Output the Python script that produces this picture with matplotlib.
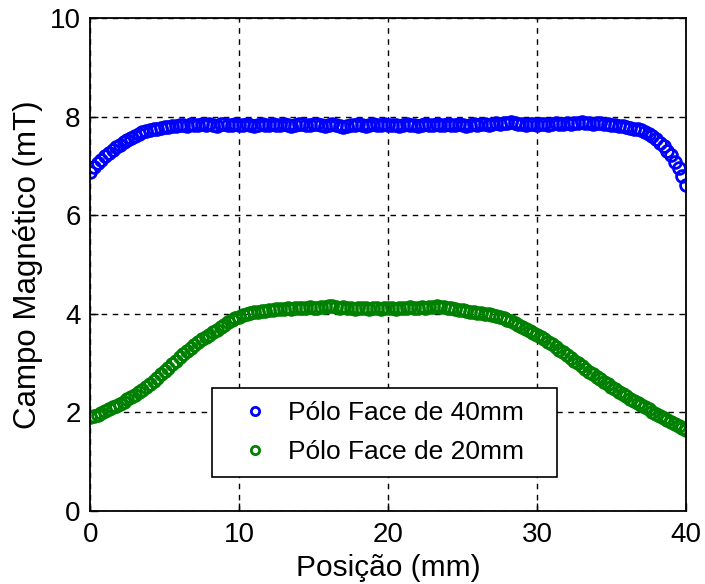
import numpy as np
import matplotlib
matplotlib.use('Agg')
import matplotlib.pyplot as plt

plt.rcParams['font.family'] = ['Liberation Sans', 'DejaVu Sans']

# posição (mm), passo de 0.25 mm
posicao = np.arange(0, 40.001, 0.25)

campo_40mm = [
    6.88, 6.98, 7.06, 7.13, 7.20, 7.26, 7.32, 7.38, 7.43, 7.48, 7.53, 7.57, 7.61,
    7.65, 7.68, 7.71, 7.73, 7.74, 7.76, 7.78, 7.79, 7.80, 7.81, 7.82, 7.83,
    7.84, 7.82, 7.85, 7.83, 7.84, 7.86, 7.83, 7.85,
    7.84, 7.82, 7.85, 7.86, 7.84, 7.83, 7.85, 7.84,
    7.83, 7.85, 7.84, 7.82, 7.84, 7.85, 7.83, 7.84,
    7.86, 7.84, 7.83, 7.85, 7.84, 7.82, 7.84, 7.86,
    7.85, 7.83, 7.84, 7.86, 7.85, 7.83, 7.82, 7.84,
    7.85, 7.83, 7.81, 7.80, 7.82, 7.84, 7.83, 7.85,
    7.84, 7.82, 7.83, 7.85, 7.84, 7.83, 7.85, 7.84,
    7.83, 7.84, 7.82, 7.84, 7.85, 7.83, 7.84, 7.82,
    7.84, 7.85, 7.83, 7.84, 7.86, 7.84, 7.83, 7.85,
    7.84, 7.83, 7.85, 7.84, 7.82, 7.84, 7.85, 7.84,
    7.86, 7.85, 7.84, 7.86, 7.87, 7.86, 7.88, 7.87,
    7.89, 7.88, 7.86, 7.85, 7.84, 7.86, 7.85, 7.84,
    7.85, 7.86, 7.84, 7.85, 7.87, 7.86, 7.85, 7.87,
    7.86, 7.88, 7.87, 7.89, 7.88, 7.87, 7.86, 7.88,
    7.87, 7.86, 7.85, 7.84,
    7.83, 7.82, 7.81, 7.80, 7.78, 7.76, 7.74, 7.72, 7.68, 7.64,
    7.60, 7.54, 7.47, 7.40, 7.31, 7.22, 7.08, 6.96, 6.80, 6.62,
]

campo_20mm = [
    1.91, 1.93, 1.95, 1.98, 2.02, 2.06, 2.10, 2.14, 2.18, 2.22, 2.27, 2.31, 2.36,
    2.41, 2.46, 2.52, 2.58, 2.64, 2.70, 2.77, 2.84, 2.91, 2.98, 3.05, 3.12,
    3.18, 3.24, 3.30, 3.36, 3.42, 3.48, 3.53, 3.58, 3.63, 3.68, 3.73, 3.78,
    3.83, 3.87, 3.91, 3.94, 3.97, 3.99, 4.01, 4.03, 4.04, 4.05, 4.06, 4.07,
    4.08, 4.09, 4.09, 4.10, 4.11, 4.10, 4.12, 4.11,
    4.12, 4.11, 4.13, 4.12, 4.11, 4.13, 4.14, 4.15,
    4.16, 4.14, 4.12, 4.13, 4.11, 4.12, 4.10, 4.12,
    4.11, 4.12, 4.10, 4.11, 4.12, 4.10, 4.11, 4.12,
    4.11, 4.10, 4.12, 4.11, 4.12, 4.13, 4.11, 4.12,
    4.13, 4.12, 4.14, 4.13, 4.15, 4.14, 4.13, 4.12,
    4.11, 4.10, 4.08, 4.07, 4.06, 4.04, 4.03, 4.02,
    4.01, 4.00, 3.99, 3.97, 3.96, 3.94, 3.91, 3.88,
    3.85, 3.81, 3.77, 3.73, 3.69, 3.65, 3.61, 3.57,
    3.53, 3.48, 3.43, 3.38, 3.33, 3.27, 3.22, 3.16,
    3.11, 3.05, 3.00, 2.94, 2.89, 2.83, 2.78, 2.72,
    2.67, 2.62, 2.57, 2.52, 2.47, 2.42, 2.38, 2.33,
    2.28, 2.24, 2.19, 2.15, 2.10, 2.06, 2.01, 1.97,
    1.92, 1.88, 1.84, 1.80, 1.76, 1.72, 1.68, 1.64,
]

rotulos = ['Pólo Face de 40mm', 'Pólo Face de 20mm']

fig = plt.figure(figsize=(7.05, 5.84), dpi=100)
ax = fig.add_axes([0.128, 0.125, 0.845, 0.844])

ax.plot(posicao, campo_40mm, 'o', color='#0000ff', mfc='none', ms=8.5, mew=2, label=rotulos[0])
ax.plot(posicao, campo_20mm, 'o', color='#008000', mfc='none', ms=8.5, mew=2, label=rotulos[1])

ax.set_xlim(0, 40)
ax.set_ylim(0, 10)
ax.set_xticks([0, 10, 20, 30, 40])
ax.set_yticks([0, 2, 4, 6, 8, 10])
ax.grid(True, color='black', linestyle=(0, (4, 4)), linewidth=1)
ax.tick_params(direction='in', length=6, labelsize=20, width=1)
ax.tick_params(axis='x', pad=8)
ax.tick_params(axis='y', pad=7)
for s in ax.spines.values():
    s.set_linewidth(1.3)

ax.set_xlabel('Posição (mm)', fontsize=21.5, labelpad=4)
ax.set_ylabel('Campo Magnético (mT)', fontsize=22.5, labelpad=5)

leg = ax.legend(loc='lower left', bbox_to_anchor=(0.205, 0.069, 0.579, 0.18), mode='expand',
                borderaxespad=0, fontsize=19, fancybox=False, framealpha=1,
                edgecolor='black', borderpad=0.5, handletextpad=0.15,
                labelspacing=0.55, markerscale=0.7, handlelength=2.2)
leg.get_frame().set_linewidth(1.2)

fig.savefig('out.png', dpi=100)
